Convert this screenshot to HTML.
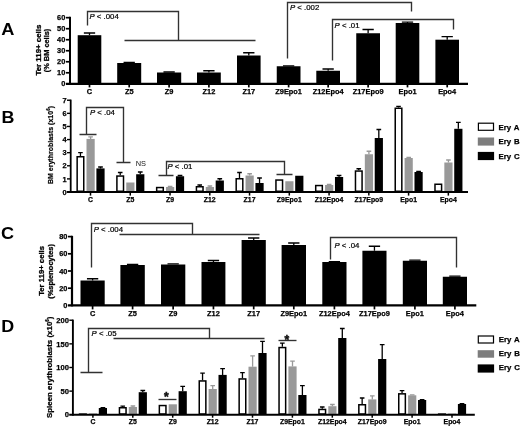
<!DOCTYPE html>
<html><head><meta charset="utf-8"><title>Figure</title>
<style>
html,body{margin:0;padding:0;background:#fff;}
svg{display:block;font-family:'Liberation Sans', Arial, sans-serif;}
</style></head>
<body>
<svg width="520" height="426" viewBox="0 0 520 426" font-family="'Liberation Sans', Arial, sans-serif" fill="#000">
<defs><filter id="soft" x="0" y="0" width="520" height="426" filterUnits="userSpaceOnUse"><feGaussianBlur stdDeviation="0.42"/></filter></defs>
<rect width="520" height="426" fill="#fff"/>
<g filter="url(#soft)">
<text transform="translate(1.2,34.6) scale(1.14,1.04)" font-size="16" font-weight="bold">A</text>
<rect x="77.70" y="35.20" width="23.60" height="48.60" fill="#000"/>
<path d="M89.50,35.2 V33 M83.85,33 H95.15" stroke="#000" stroke-width="1.3" fill="none"/>
<text x="89.5" y="94.3" font-size="7.4" font-weight="bold" text-anchor="middle" stroke="#000" stroke-width="0.25">C</text>
<path d="M89.50,83.8 V87.4" stroke="#000" stroke-width="1.7" fill="none"/>
<rect x="117.20" y="63.00" width="24.00" height="20.80" fill="#000"/>
<path d="M129.20,63 V62.4 M123.55,62.4 H134.85" stroke="#000" stroke-width="1.3" fill="none"/>
<text x="129.2" y="94.3" font-size="7.4" font-weight="bold" text-anchor="middle" stroke="#000" stroke-width="0.25">Z5</text>
<path d="M129.20,83.8 V87.4" stroke="#000" stroke-width="1.7" fill="none"/>
<rect x="157.00" y="72.50" width="24.20" height="11.30" fill="#000"/>
<path d="M169.10,72.5 V72 M163.45,72 H174.75" stroke="#000" stroke-width="1.3" fill="none"/>
<text x="169.1" y="94.3" font-size="7.4" font-weight="bold" text-anchor="middle" stroke="#000" stroke-width="0.25">Z9</text>
<path d="M169.10,83.8 V87.4" stroke="#000" stroke-width="1.7" fill="none"/>
<rect x="197.00" y="72.50" width="23.80" height="11.30" fill="#000"/>
<path d="M208.90,72.5 V70.75 M203.25,70.75 H214.55" stroke="#000" stroke-width="1.3" fill="none"/>
<text x="208.9" y="94.3" font-size="7.4" font-weight="bold" text-anchor="middle" stroke="#000" stroke-width="0.25">Z12</text>
<path d="M208.90,83.8 V87.4" stroke="#000" stroke-width="1.7" fill="none"/>
<rect x="237.00" y="55.50" width="23.60" height="28.30" fill="#000"/>
<path d="M248.80,55.5 V52.75 M243.15,52.75 H254.45" stroke="#000" stroke-width="1.3" fill="none"/>
<text x="248.8" y="94.3" font-size="7.4" font-weight="bold" text-anchor="middle" stroke="#000" stroke-width="0.25">Z17</text>
<path d="M248.80,83.8 V87.4" stroke="#000" stroke-width="1.7" fill="none"/>
<rect x="276.75" y="66.25" width="23.75" height="17.55" fill="#000"/>
<path d="M288.62,66.25 V65.9 M282.98,65.9 H294.27" stroke="#000" stroke-width="1.3" fill="none"/>
<text x="288.625" y="94.3" font-size="7.4" font-weight="bold" text-anchor="middle" stroke="#000" stroke-width="0.25">Z9Epo1</text>
<path d="M288.62,83.8 V87.4" stroke="#000" stroke-width="1.7" fill="none"/>
<rect x="316.30" y="70.75" width="23.70" height="13.05" fill="#000"/>
<path d="M328.15,70.75 V69 M322.50,69 H333.80" stroke="#000" stroke-width="1.3" fill="none"/>
<text x="328.15" y="94.3" font-size="7.4" font-weight="bold" text-anchor="middle" stroke="#000" stroke-width="0.25">Z12Epo4</text>
<path d="M328.15,83.8 V87.4" stroke="#000" stroke-width="1.7" fill="none"/>
<rect x="356.25" y="33.25" width="23.75" height="50.55" fill="#000"/>
<path d="M368.12,33.25 V29.5 M362.48,29.5 H373.77" stroke="#000" stroke-width="1.3" fill="none"/>
<text x="368.125" y="94.3" font-size="7.4" font-weight="bold" text-anchor="middle" stroke="#000" stroke-width="0.25">Z17Epo9</text>
<path d="M368.12,83.8 V87.4" stroke="#000" stroke-width="1.7" fill="none"/>
<rect x="395.70" y="23.00" width="23.60" height="60.80" fill="#000"/>
<path d="M407.50,23 V22.2 M401.85,22.2 H413.15" stroke="#000" stroke-width="1.3" fill="none"/>
<text x="407.5" y="94.3" font-size="7.4" font-weight="bold" text-anchor="middle" stroke="#000" stroke-width="0.25">Epo1</text>
<path d="M407.50,83.8 V87.4" stroke="#000" stroke-width="1.7" fill="none"/>
<rect x="435.40" y="39.70" width="23.60" height="44.10" fill="#000"/>
<path d="M447.20,39.7 V36.7 M441.55,36.7 H452.85" stroke="#000" stroke-width="1.3" fill="none"/>
<text x="447.2" y="94.3" font-size="7.4" font-weight="bold" text-anchor="middle" stroke="#000" stroke-width="0.25">Epo4</text>
<path d="M447.20,83.8 V87.4" stroke="#000" stroke-width="1.7" fill="none"/>
<path d="M70,16.8 V84.8" stroke="#000" stroke-width="2" fill="none"/>
<path d="M65.9,83.8 H468" stroke="#000" stroke-width="2.2" fill="none"/>
<text x="65.3" y="86.45" font-size="7.4" font-weight="bold" text-anchor="end" stroke="#000" stroke-width="0.25">0</text>
<path d="M65.9,72.78 H70" stroke="#000" stroke-width="1.7" fill="none"/>
<text x="65.3" y="75.43" font-size="7.4" font-weight="bold" text-anchor="end" stroke="#000" stroke-width="0.25">10</text>
<path d="M65.9,61.76 H70" stroke="#000" stroke-width="1.7" fill="none"/>
<text x="65.3" y="64.41" font-size="7.4" font-weight="bold" text-anchor="end" stroke="#000" stroke-width="0.25">20</text>
<path d="M65.9,50.74 H70" stroke="#000" stroke-width="1.7" fill="none"/>
<text x="65.3" y="53.39" font-size="7.4" font-weight="bold" text-anchor="end" stroke="#000" stroke-width="0.25">30</text>
<path d="M65.9,39.72 H70" stroke="#000" stroke-width="1.7" fill="none"/>
<text x="65.3" y="42.37" font-size="7.4" font-weight="bold" text-anchor="end" stroke="#000" stroke-width="0.25">40</text>
<path d="M65.9,28.70 H70" stroke="#000" stroke-width="1.7" fill="none"/>
<text x="65.3" y="31.35" font-size="7.4" font-weight="bold" text-anchor="end" stroke="#000" stroke-width="0.25">50</text>
<path d="M65.9,17.68 H70" stroke="#000" stroke-width="1.7" fill="none"/>
<text x="65.3" y="20.33" font-size="7.4" font-weight="bold" text-anchor="end" stroke="#000" stroke-width="0.25">60</text>
<text transform="translate(40.6,75.6) rotate(-90)" font-size="8.0" font-weight="bold" textLength="51" lengthAdjust="spacingAndGlyphs" stroke="#000" stroke-width="0.3">Ter 119+ cells</text>
<text transform="translate(48.7,72.2) rotate(-90)" font-size="7.8" font-weight="bold" textLength="43.5" lengthAdjust="spacingAndGlyphs" stroke="#000" stroke-width="0.3">(% BM cells)</text>
<path d="M87.5,25.5 V11.5 H178.5 V40.5 M124.5,40.5 H255.5" stroke="#303030" stroke-width="1.35" fill="none"/>
<path d="M287.5,58.5 V2.5 H411.5 V11.5" stroke="#303030" stroke-width="1.35" fill="none"/>
<path d="M332.5,60.5 V19.5 H453.5 V29.5" stroke="#303030" stroke-width="1.35" fill="none"/>
<text x="89.5" y="18.5" font-size="7.8" fill="#000" stroke="#000" stroke-width="0.22"><tspan font-style="italic">P</tspan> &lt; .004</text>
<text x="290" y="10.4" font-size="7.8" fill="#000" stroke="#000" stroke-width="0.22"><tspan font-style="italic">P</tspan> &lt; .002</text>
<text x="334.6" y="28.4" font-size="7.8" fill="#000" stroke="#000" stroke-width="0.22"><tspan font-style="italic">P</tspan> &lt; .01</text>
<text transform="translate(1.4,122.7) scale(1.12,1.0)" font-size="16" font-weight="bold">B</text>
<rect x="77.15" y="156.75" width="6.60" height="34.50" fill="#fff" stroke="#000" stroke-width="1.5"/>
<path d="M80.45,156 V152.6 M78.15,152.6 H82.75" stroke="#000" stroke-width="1.3" fill="none"/>
<rect x="86.50" y="138.90" width="8.20" height="53.10" fill="#999999"/>
<path d="M90.60,138.9 V136.8 M88.30,136.8 H92.90" stroke="#999999" stroke-width="1.3" fill="none"/>
<rect x="96.40" y="168.40" width="8.20" height="23.60" fill="#000"/>
<path d="M100.50,168.4 V167 M98.15,167 H102.85" stroke="#000" stroke-width="1.3" fill="none"/>
<path d="M90.50,192 V195.6" stroke="#000" stroke-width="1.5" fill="none"/>
<text x="90.5" y="201.6" font-size="6.9" font-weight="bold" text-anchor="middle" stroke="#000" stroke-width="0.25">C</text>
<rect x="116.91" y="176.05" width="6.60" height="15.20" fill="#fff" stroke="#000" stroke-width="1.5"/>
<path d="M120.21,175.3 V172.5 M117.91,172.5 H122.51" stroke="#000" stroke-width="1.3" fill="none"/>
<rect x="126.26" y="182.50" width="8.20" height="9.50" fill="#999999"/>
<rect x="136.16" y="174.25" width="8.20" height="17.75" fill="#000"/>
<path d="M140.26,174.25 V172 M137.91,172 H142.61" stroke="#000" stroke-width="1.3" fill="none"/>
<path d="M130.26,192 V195.6" stroke="#000" stroke-width="1.5" fill="none"/>
<text x="130.26" y="201.6" font-size="6.9" font-weight="bold" text-anchor="middle" stroke="#000" stroke-width="0.25">Z5</text>
<rect x="156.67" y="187.55" width="6.60" height="3.70" fill="#fff" stroke="#000" stroke-width="1.5"/>
<rect x="166.02" y="187.00" width="8.20" height="5.00" fill="#999999"/>
<path d="M170.12,187 V186.3 M167.82,186.3 H172.42" stroke="#999999" stroke-width="1.3" fill="none"/>
<rect x="175.92" y="176.25" width="8.20" height="15.75" fill="#000"/>
<path d="M180.02,176.25 V175.5 M177.67,175.5 H182.37" stroke="#000" stroke-width="1.3" fill="none"/>
<path d="M170.02,192 V195.6" stroke="#000" stroke-width="1.5" fill="none"/>
<text x="170.02" y="201.6" font-size="6.9" font-weight="bold" text-anchor="middle" stroke="#000" stroke-width="0.25">Z9</text>
<rect x="196.43" y="186.75" width="6.60" height="4.50" fill="#fff" stroke="#000" stroke-width="1.5"/>
<path d="M199.73,186 V185 M197.43,185 H202.03" stroke="#000" stroke-width="1.3" fill="none"/>
<rect x="205.78" y="187.00" width="8.20" height="5.00" fill="#999999"/>
<path d="M209.88,187 V186 M207.58,186 H212.18" stroke="#999999" stroke-width="1.3" fill="none"/>
<rect x="215.68" y="180.50" width="8.20" height="11.50" fill="#000"/>
<path d="M219.78,180.5 V178.75 M217.43,178.75 H222.13" stroke="#000" stroke-width="1.3" fill="none"/>
<path d="M209.78,192 V195.6" stroke="#000" stroke-width="1.5" fill="none"/>
<text x="209.78" y="201.6" font-size="6.9" font-weight="bold" text-anchor="middle" stroke="#000" stroke-width="0.25">Z12</text>
<rect x="236.19" y="178.75" width="6.60" height="12.50" fill="#fff" stroke="#000" stroke-width="1.5"/>
<path d="M239.49,178 V172.5 M237.19,172.5 H241.79" stroke="#000" stroke-width="1.3" fill="none"/>
<rect x="245.54" y="175.50" width="8.20" height="16.50" fill="#999999"/>
<path d="M249.64,175.5 V173.75 M247.34,173.75 H251.94" stroke="#999999" stroke-width="1.3" fill="none"/>
<rect x="255.44" y="183.00" width="8.20" height="9.00" fill="#000"/>
<path d="M259.54,183 V178 M257.19,178 H261.89" stroke="#000" stroke-width="1.3" fill="none"/>
<path d="M249.54,192 V195.6" stroke="#000" stroke-width="1.5" fill="none"/>
<text x="249.54" y="201.6" font-size="6.9" font-weight="bold" text-anchor="middle" stroke="#000" stroke-width="0.25">Z17</text>
<rect x="275.95" y="180.05" width="6.60" height="11.20" fill="#fff" stroke="#000" stroke-width="1.5"/>
<rect x="285.30" y="181.25" width="8.20" height="10.75" fill="#999999"/>
<rect x="295.20" y="175.75" width="8.20" height="16.25" fill="#000"/>
<path d="M289.30,192 V195.6" stroke="#000" stroke-width="1.5" fill="none"/>
<text x="289.3" y="201.6" font-size="6.9" font-weight="bold" text-anchor="middle" stroke="#000" stroke-width="0.25">Z9Epo1</text>
<rect x="315.71" y="185.55" width="6.60" height="5.70" fill="#fff" stroke="#000" stroke-width="1.5"/>
<rect x="325.06" y="185.00" width="8.20" height="7.00" fill="#999999"/>
<path d="M329.16,185 V184.5 M326.86,184.5 H331.46" stroke="#999999" stroke-width="1.3" fill="none"/>
<rect x="334.96" y="177.00" width="8.20" height="15.00" fill="#000"/>
<path d="M339.06,177 V175.5 M336.71,175.5 H341.41" stroke="#000" stroke-width="1.3" fill="none"/>
<path d="M329.06,192 V195.6" stroke="#000" stroke-width="1.5" fill="none"/>
<text x="329.06" y="201.6" font-size="6.9" font-weight="bold" text-anchor="middle" stroke="#000" stroke-width="0.25">Z12Epo4</text>
<rect x="355.47" y="171.05" width="6.60" height="20.20" fill="#fff" stroke="#000" stroke-width="1.5"/>
<path d="M358.77,170.3 V168.75 M356.47,168.75 H361.07" stroke="#000" stroke-width="1.3" fill="none"/>
<rect x="364.82" y="154.25" width="8.20" height="37.75" fill="#999999"/>
<path d="M368.92,154.25 V151.25 M366.62,151.25 H371.22" stroke="#999999" stroke-width="1.3" fill="none"/>
<rect x="374.72" y="138.00" width="8.20" height="54.00" fill="#000"/>
<path d="M378.82,138 V129.5 M376.47,129.5 H381.17" stroke="#000" stroke-width="1.3" fill="none"/>
<path d="M368.82,192 V195.6" stroke="#000" stroke-width="1.5" fill="none"/>
<text x="368.82" y="201.6" font-size="6.9" font-weight="bold" text-anchor="middle" stroke="#000" stroke-width="0.25">Z17Epo9</text>
<rect x="395.23" y="108.25" width="6.60" height="83.00" fill="#fff" stroke="#000" stroke-width="1.5"/>
<path d="M398.53,107.5 V106.3 M396.23,106.3 H400.83" stroke="#000" stroke-width="1.3" fill="none"/>
<rect x="404.58" y="158.00" width="8.20" height="34.00" fill="#999999"/>
<path d="M408.68,158 V157.3 M406.38,157.3 H410.98" stroke="#999999" stroke-width="1.3" fill="none"/>
<rect x="414.48" y="172.00" width="8.20" height="20.00" fill="#000"/>
<path d="M418.58,172 V171.5 M416.23,171.5 H420.93" stroke="#000" stroke-width="1.3" fill="none"/>
<path d="M408.58,192 V195.6" stroke="#000" stroke-width="1.5" fill="none"/>
<text x="408.58" y="201.6" font-size="6.9" font-weight="bold" text-anchor="middle" stroke="#000" stroke-width="0.25">Epo1</text>
<rect x="434.99" y="184.25" width="6.60" height="7.00" fill="#fff" stroke="#000" stroke-width="1.5"/>
<rect x="444.34" y="162.50" width="8.20" height="29.50" fill="#999999"/>
<path d="M448.44,162.5 V160 M446.14,160 H450.74" stroke="#999999" stroke-width="1.3" fill="none"/>
<rect x="454.24" y="128.80" width="8.20" height="63.20" fill="#000"/>
<path d="M458.34,128.8 V122.3 M455.99,122.3 H460.69" stroke="#000" stroke-width="1.3" fill="none"/>
<path d="M448.34,192 V195.6" stroke="#000" stroke-width="1.5" fill="none"/>
<text x="448.34" y="201.6" font-size="6.9" font-weight="bold" text-anchor="middle" stroke="#000" stroke-width="0.25">Epo4</text>
<path d="M70.7,99.6 V192.9" stroke="#000" stroke-width="1.8" fill="none"/>
<path d="M66.8,192 H468" stroke="#000" stroke-width="1.9" fill="none"/>
<text x="66.5" y="194.65" font-size="7.4" font-weight="bold" text-anchor="end" stroke="#000" stroke-width="0.25">0</text>
<path d="M67,178.89 H70.7" stroke="#000" stroke-width="1.4" fill="none"/>
<text x="66.5" y="181.54" font-size="7.4" font-weight="bold" text-anchor="end" stroke="#000" stroke-width="0.25">1</text>
<path d="M67,165.78 H70.7" stroke="#000" stroke-width="1.4" fill="none"/>
<text x="66.5" y="168.43" font-size="7.4" font-weight="bold" text-anchor="end" stroke="#000" stroke-width="0.25">2</text>
<path d="M67,152.67 H70.7" stroke="#000" stroke-width="1.4" fill="none"/>
<text x="66.5" y="155.32" font-size="7.4" font-weight="bold" text-anchor="end" stroke="#000" stroke-width="0.25">3</text>
<path d="M67,139.56 H70.7" stroke="#000" stroke-width="1.4" fill="none"/>
<text x="66.5" y="142.21" font-size="7.4" font-weight="bold" text-anchor="end" stroke="#000" stroke-width="0.25">4</text>
<path d="M67,126.45 H70.7" stroke="#000" stroke-width="1.4" fill="none"/>
<text x="66.5" y="129.1" font-size="7.4" font-weight="bold" text-anchor="end" stroke="#000" stroke-width="0.25">5</text>
<path d="M67,113.34 H70.7" stroke="#000" stroke-width="1.4" fill="none"/>
<text x="66.5" y="115.99" font-size="7.4" font-weight="bold" text-anchor="end" stroke="#000" stroke-width="0.25">6</text>
<path d="M67,100.23 H70.7" stroke="#000" stroke-width="1.4" fill="none"/>
<text x="66.5" y="102.88" font-size="7.4" font-weight="bold" text-anchor="end" stroke="#000" stroke-width="0.25">7</text>
<text transform="translate(52.5,145) rotate(-90)" font-size="7" font-weight="bold" text-anchor="middle" stroke="#000" stroke-width="0.2">BM erythroblasts (x10<tspan font-size="4.5" dy="-3">6</tspan><tspan dy="3">)</tspan></text>
<path d="M79.5,134.5 H96.5 M86.5,134.5 V107.5 H123.5 V162.5 M116.5,162.5 H130.5" stroke="#303030" stroke-width="1.35" fill="none"/>
<text x="90" y="115" font-size="7.8" fill="#000" stroke="#000" stroke-width="0.22"><tspan font-style="italic">P</tspan> &lt; .04</text>
<text x="135.7" y="165.6" font-size="7.4" fill="#111">NS</text>
<path d="M158.5,175.5 H173.5 M166.5,175.5 V161.5 H284.5 V174.5 M276.5,174.5 H292.5" stroke="#303030" stroke-width="1.35" fill="none"/>
<text x="167.5" y="168.75" font-size="7.8" fill="#000" stroke="#000" stroke-width="0.22"><tspan font-style="italic">P</tspan> &lt; .01</text>
<rect x="478.40000000000003" y="123.19999999999999" width="15.100000000000012" height="7.10" fill="#fff" stroke="#000" stroke-width="1.2"/>
<rect x="477.8" y="137.5" width="16.30000000000001" height="8.10" fill="#7d7d7d"/>
<rect x="477.8" y="151.9" width="16.30000000000001" height="8.20" fill="#000"/>
<text x="498.6" y="129.8" font-size="7.8" font-weight="bold" word-spacing="0.7" stroke="#000" stroke-width="0.25">Ery A</text>
<text x="498.6" y="144.2" font-size="7.8" font-weight="bold" word-spacing="0.7" stroke="#000" stroke-width="0.25">Ery B</text>
<text x="498.6" y="158.8" font-size="7.8" font-weight="bold" word-spacing="0.7" stroke="#000" stroke-width="0.25">Ery C</text>
<text transform="translate(1.1,239.3) scale(1.13,1.06)" font-size="16" font-weight="bold">C</text>
<rect x="80.50" y="280.50" width="24.20" height="24.90" fill="#000"/>
<path d="M92.60,280.5 V278.75 M86.95,278.75 H98.25" stroke="#000" stroke-width="1.3" fill="none"/>
<text x="92.6" y="316.2" font-size="7.4" font-weight="bold" text-anchor="middle" stroke="#000" stroke-width="0.25">C</text>
<path d="M92.60,305.4 V309.4" stroke="#000" stroke-width="1.7" fill="none"/>
<rect x="120.40" y="265.00" width="24.40" height="40.40" fill="#000"/>
<path d="M132.60,265 V264.4 M126.95,264.4 H138.25" stroke="#000" stroke-width="1.3" fill="none"/>
<text x="132.6" y="316.2" font-size="7.4" font-weight="bold" text-anchor="middle" stroke="#000" stroke-width="0.25">Z5</text>
<path d="M132.60,305.4 V309.4" stroke="#000" stroke-width="1.7" fill="none"/>
<rect x="161.00" y="264.50" width="24.30" height="40.90" fill="#000"/>
<path d="M173.15,264.5 V263.9 M167.50,263.9 H178.80" stroke="#000" stroke-width="1.3" fill="none"/>
<text x="173.15" y="316.2" font-size="7.4" font-weight="bold" text-anchor="middle" stroke="#000" stroke-width="0.25">Z9</text>
<path d="M173.15,305.4 V309.4" stroke="#000" stroke-width="1.7" fill="none"/>
<rect x="201.50" y="262.00" width="23.90" height="43.40" fill="#000"/>
<path d="M213.45,262 V260.5 M207.80,260.5 H219.10" stroke="#000" stroke-width="1.3" fill="none"/>
<text x="213.45" y="316.2" font-size="7.4" font-weight="bold" text-anchor="middle" stroke="#000" stroke-width="0.25">Z12</text>
<path d="M213.45,305.4 V309.4" stroke="#000" stroke-width="1.7" fill="none"/>
<rect x="241.60" y="240.00" width="24.20" height="65.40" fill="#000"/>
<path d="M253.70,240 V238 M248.05,238 H259.35" stroke="#000" stroke-width="1.3" fill="none"/>
<text x="253.7" y="316.2" font-size="7.4" font-weight="bold" text-anchor="middle" stroke="#000" stroke-width="0.25">Z17</text>
<path d="M253.70,305.4 V309.4" stroke="#000" stroke-width="1.7" fill="none"/>
<rect x="281.60" y="245.00" width="24.40" height="60.40" fill="#000"/>
<path d="M293.80,245 V243 M288.15,243 H299.45" stroke="#000" stroke-width="1.3" fill="none"/>
<text x="293.8" y="316.2" font-size="7.4" font-weight="bold" text-anchor="middle" stroke="#000" stroke-width="0.25">Z9Epo1</text>
<path d="M293.80,305.4 V309.4" stroke="#000" stroke-width="1.7" fill="none"/>
<rect x="322.30" y="262.00" width="24.20" height="43.40" fill="#000"/>
<path d="M334.40,262 V261.7 M328.75,261.7 H340.05" stroke="#000" stroke-width="1.3" fill="none"/>
<text x="334.4" y="316.2" font-size="7.4" font-weight="bold" text-anchor="middle" stroke="#000" stroke-width="0.25">Z12Epo4</text>
<path d="M334.40,305.4 V309.4" stroke="#000" stroke-width="1.7" fill="none"/>
<rect x="362.40" y="250.75" width="24.10" height="54.65" fill="#000"/>
<path d="M374.45,250.75 V246.25 M368.80,246.25 H380.10" stroke="#000" stroke-width="1.3" fill="none"/>
<text x="374.45" y="316.2" font-size="7.4" font-weight="bold" text-anchor="middle" stroke="#000" stroke-width="0.25">Z17Epo9</text>
<path d="M374.45,305.4 V309.4" stroke="#000" stroke-width="1.7" fill="none"/>
<rect x="402.80" y="260.75" width="24.20" height="44.65" fill="#000"/>
<path d="M414.90,260.75 V260.2 M409.25,260.2 H420.55" stroke="#000" stroke-width="1.3" fill="none"/>
<text x="414.9" y="316.2" font-size="7.4" font-weight="bold" text-anchor="middle" stroke="#000" stroke-width="0.25">Epo1</text>
<path d="M414.90,305.4 V309.4" stroke="#000" stroke-width="1.7" fill="none"/>
<rect x="442.80" y="276.75" width="24.20" height="28.65" fill="#000"/>
<path d="M454.90,276.75 V276.2 M449.25,276.2 H460.55" stroke="#000" stroke-width="1.3" fill="none"/>
<text x="454.9" y="316.2" font-size="7.4" font-weight="bold" text-anchor="middle" stroke="#000" stroke-width="0.25">Epo4</text>
<path d="M454.90,305.4 V309.4" stroke="#000" stroke-width="1.7" fill="none"/>
<path d="M72,235.8 V306.4" stroke="#000" stroke-width="2.2" fill="none"/>
<path d="M67.9,305.4 H476.3" stroke="#000" stroke-width="2.1" fill="none"/>
<text x="67.4" y="308.05" font-size="7.4" font-weight="bold" text-anchor="end" stroke="#000" stroke-width="0.25">0</text>
<path d="M68,288.20 H72" stroke="#000" stroke-width="1.7" fill="none"/>
<text x="67.4" y="290.85" font-size="7.4" font-weight="bold" text-anchor="end" stroke="#000" stroke-width="0.25">20</text>
<path d="M68,271.00 H72" stroke="#000" stroke-width="1.7" fill="none"/>
<text x="67.4" y="273.65" font-size="7.4" font-weight="bold" text-anchor="end" stroke="#000" stroke-width="0.25">40</text>
<path d="M68,253.80 H72" stroke="#000" stroke-width="1.7" fill="none"/>
<text x="67.4" y="256.45" font-size="7.4" font-weight="bold" text-anchor="end" stroke="#000" stroke-width="0.25">60</text>
<path d="M68,236.60 H72" stroke="#000" stroke-width="1.7" fill="none"/>
<text x="67.4" y="239.25" font-size="7.4" font-weight="bold" text-anchor="end" stroke="#000" stroke-width="0.25">80</text>
<text transform="translate(43.9,295.8) rotate(-90)" font-size="7.8" font-weight="bold" textLength="49.8" lengthAdjust="spacingAndGlyphs" stroke="#000" stroke-width="0.3">Ter 119+ cells</text>
<text transform="translate(52.8,298.8) rotate(-90)" font-size="7.6" font-weight="bold" textLength="54.8" lengthAdjust="spacingAndGlyphs" stroke="#000" stroke-width="0.3">(%splenocytes)</text>
<path d="M91.5,267.5 V223.5 H192.5 V234.5 M119.5,234.5 H259.5" stroke="#303030" stroke-width="1.35" fill="none"/>
<text x="93.75" y="232" font-size="7.8" fill="#000" stroke="#000" stroke-width="0.22"><tspan font-style="italic">P</tspan> &lt; .004</text>
<path d="M330.5,259.5 V237.5 H456.5 V267.5" stroke="#303030" stroke-width="1.35" fill="none"/>
<text x="334.5" y="248.25" font-size="7.8" fill="#000" stroke="#000" stroke-width="0.22"><tspan font-style="italic">P</tspan> &lt; .04</text>
<text transform="translate(1.3,331.9) scale(1.12,1.0)" font-size="16" font-weight="bold">D</text>
<rect x="78.80" y="413.35" width="8.10" height="1" fill="#000"/>
<rect x="88.90" y="413.40" width="8.20" height="1.35" fill="#999999"/>
<rect x="98.80" y="408.00" width="8.20" height="6.75" fill="#000"/>
<path d="M102.90,408 V407.6 M100.55,407.6 H105.25" stroke="#000" stroke-width="1.3" fill="none"/>
<path d="M92.90,414.75 V417.7" stroke="#000" stroke-width="1.5" fill="none"/>
<text x="92.9" y="424.3" font-size="6.9" font-weight="bold" text-anchor="middle" stroke="#000" stroke-width="0.25">C</text>
<rect x="119.45" y="407.75" width="6.60" height="6.25" fill="#fff" stroke="#000" stroke-width="1.5"/>
<path d="M122.75,407 V406.2 M120.45,406.2 H125.05" stroke="#000" stroke-width="1.3" fill="none"/>
<rect x="128.80" y="407.00" width="8.20" height="7.75" fill="#999999"/>
<path d="M132.90,407 V406 M130.60,406 H135.20" stroke="#999999" stroke-width="1.3" fill="none"/>
<rect x="138.70" y="392.20" width="8.20" height="22.55" fill="#000"/>
<path d="M142.80,392.2 V390.5 M140.45,390.5 H145.15" stroke="#000" stroke-width="1.3" fill="none"/>
<path d="M132.80,414.75 V417.7" stroke="#000" stroke-width="1.5" fill="none"/>
<text x="132.8" y="424.3" font-size="6.9" font-weight="bold" text-anchor="middle" stroke="#000" stroke-width="0.25">Z5</text>
<rect x="159.35" y="405.55" width="6.60" height="8.45" fill="#fff" stroke="#000" stroke-width="1.5"/>
<rect x="168.70" y="404.30" width="8.20" height="10.45" fill="#999999"/>
<rect x="178.60" y="391.20" width="8.20" height="23.55" fill="#000"/>
<path d="M182.70,391.2 V386.4 M180.35,386.4 H185.05" stroke="#000" stroke-width="1.3" fill="none"/>
<path d="M172.70,414.75 V417.7" stroke="#000" stroke-width="1.5" fill="none"/>
<text x="172.7" y="424.3" font-size="6.9" font-weight="bold" text-anchor="middle" stroke="#000" stroke-width="0.25">Z9</text>
<rect x="199.25" y="380.95" width="6.60" height="33.05" fill="#fff" stroke="#000" stroke-width="1.5"/>
<path d="M202.55,380.2 V373.2 M200.25,373.2 H204.85" stroke="#000" stroke-width="1.3" fill="none"/>
<rect x="208.60" y="389.00" width="8.20" height="25.75" fill="#999999"/>
<path d="M212.70,389 V385.7 M210.40,385.7 H215.00" stroke="#999999" stroke-width="1.3" fill="none"/>
<rect x="218.50" y="374.90" width="8.20" height="39.85" fill="#000"/>
<path d="M222.60,374.9 V368.6 M220.25,368.6 H224.95" stroke="#000" stroke-width="1.3" fill="none"/>
<path d="M212.60,414.75 V417.7" stroke="#000" stroke-width="1.5" fill="none"/>
<text x="212.6" y="424.3" font-size="6.9" font-weight="bold" text-anchor="middle" stroke="#000" stroke-width="0.25">Z12</text>
<rect x="239.15" y="378.95" width="6.60" height="35.05" fill="#fff" stroke="#000" stroke-width="1.5"/>
<path d="M242.45,378.2 V372.7 M240.15,372.7 H244.75" stroke="#000" stroke-width="1.3" fill="none"/>
<rect x="248.50" y="366.70" width="8.20" height="48.05" fill="#999999"/>
<path d="M252.60,366.7 V355.8 M250.30,355.8 H254.90" stroke="#999999" stroke-width="1.3" fill="none"/>
<rect x="258.40" y="353.00" width="8.20" height="61.75" fill="#000"/>
<path d="M262.50,353 V341.3 M260.15,341.3 H264.85" stroke="#000" stroke-width="1.3" fill="none"/>
<path d="M252.50,414.75 V417.7" stroke="#000" stroke-width="1.5" fill="none"/>
<text x="252.5" y="424.3" font-size="6.9" font-weight="bold" text-anchor="middle" stroke="#000" stroke-width="0.25">Z17</text>
<rect x="279.05" y="347.55" width="6.60" height="66.45" fill="#fff" stroke="#000" stroke-width="1.5"/>
<path d="M282.35,346.8 V343.2 M280.05,343.2 H284.65" stroke="#000" stroke-width="1.3" fill="none"/>
<rect x="288.40" y="366.40" width="8.20" height="48.35" fill="#999999"/>
<path d="M292.50,366.4 V361.2 M290.20,361.2 H294.80" stroke="#999999" stroke-width="1.3" fill="none"/>
<rect x="298.30" y="395.00" width="8.20" height="19.75" fill="#000"/>
<path d="M302.40,395 V385.7 M300.05,385.7 H304.75" stroke="#000" stroke-width="1.3" fill="none"/>
<path d="M292.40,414.75 V417.7" stroke="#000" stroke-width="1.5" fill="none"/>
<text x="292.4" y="424.3" font-size="6.9" font-weight="bold" text-anchor="middle" stroke="#000" stroke-width="0.25">Z9Epo1</text>
<rect x="318.95" y="409.45" width="6.60" height="4.55" fill="#fff" stroke="#000" stroke-width="1.5"/>
<path d="M322.25,408.7 V407 M319.95,407 H324.55" stroke="#000" stroke-width="1.3" fill="none"/>
<rect x="328.30" y="406.20" width="8.20" height="8.55" fill="#999999"/>
<path d="M332.40,406.2 V404.5 M330.10,404.5 H334.70" stroke="#999999" stroke-width="1.3" fill="none"/>
<rect x="338.20" y="338.00" width="8.20" height="76.75" fill="#000"/>
<path d="M342.30,338 V328.5 M339.95,328.5 H344.65" stroke="#000" stroke-width="1.3" fill="none"/>
<path d="M332.30,414.75 V417.7" stroke="#000" stroke-width="1.5" fill="none"/>
<text x="332.3" y="424.3" font-size="6.9" font-weight="bold" text-anchor="middle" stroke="#000" stroke-width="0.25">Z12Epo4</text>
<rect x="358.85" y="404.75" width="6.60" height="9.25" fill="#fff" stroke="#000" stroke-width="1.5"/>
<path d="M362.15,404 V398 M359.85,398 H364.45" stroke="#000" stroke-width="1.3" fill="none"/>
<rect x="368.20" y="399.40" width="8.20" height="15.35" fill="#999999"/>
<path d="M372.30,399.4 V395.8 M370.00,395.8 H374.60" stroke="#999999" stroke-width="1.3" fill="none"/>
<rect x="378.10" y="359.00" width="8.20" height="55.75" fill="#000"/>
<path d="M382.20,359 V344.6 M379.85,344.6 H384.55" stroke="#000" stroke-width="1.3" fill="none"/>
<path d="M372.20,414.75 V417.7" stroke="#000" stroke-width="1.5" fill="none"/>
<text x="372.2" y="424.3" font-size="6.9" font-weight="bold" text-anchor="middle" stroke="#000" stroke-width="0.25">Z17Epo9</text>
<rect x="398.75" y="393.85" width="6.60" height="20.15" fill="#fff" stroke="#000" stroke-width="1.5"/>
<path d="M402.05,393.1 V390.7 M399.75,390.7 H404.35" stroke="#000" stroke-width="1.3" fill="none"/>
<rect x="408.10" y="395.30" width="8.20" height="19.45" fill="#999999"/>
<path d="M412.20,395.3 V394.8 M409.90,394.8 H414.50" stroke="#999999" stroke-width="1.3" fill="none"/>
<rect x="418.00" y="400.00" width="8.20" height="14.75" fill="#000"/>
<path d="M422.10,400 V399.6 M419.75,399.6 H424.45" stroke="#000" stroke-width="1.3" fill="none"/>
<path d="M412.10,414.75 V417.7" stroke="#000" stroke-width="1.5" fill="none"/>
<text x="412.1" y="424.3" font-size="6.9" font-weight="bold" text-anchor="middle" stroke="#000" stroke-width="0.25">Epo1</text>
<rect x="437.90" y="413.35" width="8.10" height="1" fill="#000"/>
<rect x="448.00" y="413.55" width="8.20" height="1" fill="#999999"/>
<rect x="457.90" y="404.00" width="8.20" height="10.75" fill="#000"/>
<path d="M462.00,404 V403.7 M459.65,403.7 H464.35" stroke="#000" stroke-width="1.3" fill="none"/>
<path d="M452.00,414.75 V417.7" stroke="#000" stroke-width="1.5" fill="none"/>
<text x="452.0" y="424.3" font-size="6.9" font-weight="bold" text-anchor="middle" stroke="#000" stroke-width="0.25">Epo4</text>
<path d="M72.9,319.6 V415.65" stroke="#000" stroke-width="1.9" fill="none"/>
<path d="M69.2,414.75 H474.8" stroke="#000" stroke-width="1.9" fill="none"/>
<text x="68.9" y="417.4" font-size="7.6" font-weight="bold" text-anchor="end" stroke="#000" stroke-width="0.25">0</text>
<path d="M69.3,391.12 H72.9" stroke="#000" stroke-width="1.4" fill="none"/>
<text x="68.9" y="393.77" font-size="7.6" font-weight="bold" text-anchor="end" stroke="#000" stroke-width="0.25">50</text>
<path d="M69.3,367.49 H72.9" stroke="#000" stroke-width="1.4" fill="none"/>
<text x="68.9" y="370.14" font-size="7.6" font-weight="bold" text-anchor="end" stroke="#000" stroke-width="0.25">100</text>
<path d="M69.3,343.86 H72.9" stroke="#000" stroke-width="1.4" fill="none"/>
<text x="68.9" y="346.51" font-size="7.6" font-weight="bold" text-anchor="end" stroke="#000" stroke-width="0.25">150</text>
<path d="M69.3,320.23 H72.9" stroke="#000" stroke-width="1.4" fill="none"/>
<text x="68.9" y="322.88" font-size="7.6" font-weight="bold" text-anchor="end" stroke="#000" stroke-width="0.25">200</text>
<text transform="translate(51.6,418.1) rotate(-90)" font-size="7.93" font-weight="bold" stroke="#000" stroke-width="0.25">Spleen erythroblasts (x10<tspan font-size="4.5" dy="-3">6</tspan><tspan dy="3">)</tspan></text>
<path d="M80.5,372.5 H102.5 M88.5,372.5 V328.5 H209.5 V338.5 M113.5,338.5 H264.5" stroke="#303030" stroke-width="1.35" fill="none"/>
<text x="91.6" y="335.8" font-size="7.8" fill="#000" stroke="#000" stroke-width="0.22"><tspan font-style="italic">P</tspan> &lt; .05</text>
<path d="M158.5,399.5 H176.5" stroke="#303030" stroke-width="1.35" fill="none"/>
<path d="M278.5,340.5 H296.5" stroke="#303030" stroke-width="1.35" fill="none"/>
<text x="166.4" y="401.3" font-size="12" font-weight="bold" text-anchor="middle" fill="#111" stroke="#111" stroke-width="0.5">*</text>
<text x="286.9" y="343.5" font-size="12" font-weight="bold" text-anchor="middle" fill="#111" stroke="#111" stroke-width="0.5">*</text>
<rect x="478.3" y="336.0" width="15.200000000000035" height="7.00" fill="#fff" stroke="#000" stroke-width="1.2"/>
<rect x="477.7" y="350.2" width="16.400000000000034" height="7.50" fill="#7d7d7d"/>
<rect x="477.7" y="364.4" width="16.400000000000034" height="8.20" fill="#000"/>
<text x="498.8" y="341.8" font-size="7.8" font-weight="bold" word-spacing="0.7" stroke="#000" stroke-width="0.25">Ery A</text>
<text x="498.8" y="356" font-size="7.8" font-weight="bold" word-spacing="0.7" stroke="#000" stroke-width="0.25">Ery B</text>
<text x="498.8" y="370.4" font-size="7.8" font-weight="bold" word-spacing="0.7" stroke="#000" stroke-width="0.25">Ery C</text>
</g>
</svg>
</body></html>
